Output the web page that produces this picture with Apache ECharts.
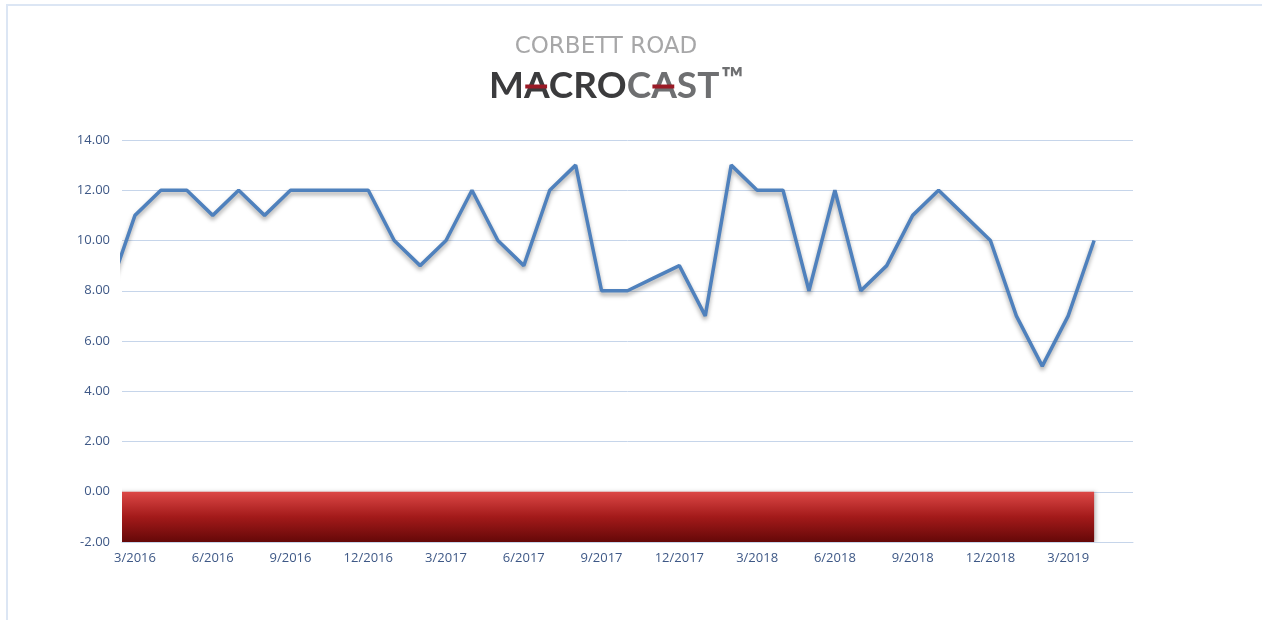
<!DOCTYPE html>
<html>
<head>
<meta charset="utf-8">
<script src="https://cdn.jsdelivr.net/npm/echarts@6/dist/echarts.min.js"></script>
<style>
  html, body { margin: 0; padding: 0; background: #fff; }
  #chart { width: 1262px; height: 620px; }
</style>
</head>
<body>
<div id="chart"></div>
<script>
// months on the visible axis (3/2016 .. 5/2019)
const months = [
  '3/2016', '4/2016', '5/2016', '6/2016', '7/2016', '8/2016', '9/2016', '10/2016', '11/2016', '12/2016',
  '1/2017', '2/2017', '3/2017', '4/2017', '5/2017', '6/2017', '7/2017', '8/2017', '9/2017', '10/2017', '11/2017', '12/2017',
  '1/2018', '2/2018', '3/2018', '4/2018', '5/2018', '6/2018', '7/2018', '8/2018', '9/2018', '10/2018', '11/2018', '12/2018',
  '1/2019', '2/2019', '3/2019', '4/2019', '5/2019'
];
// index score, first value is 2/2016 (just left of the axis, clipped)
const scores = [
  8,
  11, 12, 12, 11, 12, 11, 12, 12, 12, 12,
  10, 9, 10, 12, 10, 9, 12, 13, 8, 8, 8.5, 9,
  7, 13, 12, 12, 8, 12, 8, 9, 11, 12, 11, 10,
  7, 5, 7, 10
];
// shaded band below zero, same months as scores
const band = [
  -2,
  -2, -2, -2, -2, -2, -2, -2, -2, -2, -2,
  -2, -2, -2, -2, -2, -2, -2, -2, -2, -2, -2, -2,
  -2, -2, -2, -2, -2, -2, -2, -2, -2, -2, -2, -2,
  -2, -2, -2, -2
];
const yTicks = { min: -2, max: 14, step: 2 };

const labelColor = '#3e5886';
const gridColor = '#c6d5ea';

// logo text, red strokes across the two A's measured from the font
const logoFont = 'bold 37px Lato';
const logoX = 489, logoY = 86;
const ctx = document.createElement('canvas').getContext('2d');
ctx.font = logoFont;
const tw = s => ctx.measureText(s).width;
const a1 = logoX + tw('M');
const a2 = logoX + tw('MACROC');
const wA = tw('A');
const gCast = logoX + tw('MACRO');
const gTm = logoX + tw('MACROCAST');

const chart = echarts.init(document.getElementById('chart'));
chart.setOption({
  animation: false,
  textStyle: { fontFamily: 'Open Sans' },
  graphic: [
    { type: 'rect', shape: { x: 7, y: 5, width: 1300, height: 700 }, style: { fill: 'none', stroke: '#dce6f4', lineWidth: 2 }, silent: true },
    {
      type: 'text', x: 606, y: 47,
      style: { text: 'CORBETT ROAD', font: '23px "DejaVu Sans"', fill: '#a7a7a8', align: 'center', verticalAlign: 'middle' }
    },
    {
      type: 'text', x: logoX, y: logoY,
      style: { text: 'MACRO', font: logoFont, fill: '#3b3b3d', verticalAlign: 'middle' }
    },
    {
      type: 'text', x: gCast, y: logoY,
      style: { text: 'CAST', font: logoFont, fill: '#6e6f71', verticalAlign: 'middle' }
    },
    {
      type: 'text', x: gTm + 2, y: logoY - 7,
      style: { text: '™', font: 'bold 30px Lato', fill: '#6e6f71', verticalAlign: 'middle' }
    },
    { type: 'rect', z: 100, shape: { x: a1 + wA * 0.05, y: 84.5, width: wA * 0.85, height: 4 }, style: { fill: '#9a1a26' } },
    { type: 'rect', z: 100, shape: { x: a2 + wA * 0.05, y: 84.5, width: wA * 0.85, height: 4 }, style: { fill: '#9a1a26' } }
  ],
  grid: { left: 122, right: 129, top: 140, bottom: 78, containLabel: false },
  xAxis: [
    { type: 'value', min: -0.5, max: months.length - 0.5, show: false },
    {
      type: 'category',
      data: months,
      boundaryGap: true,
      position: 'bottom',
      axisLine: { onZero: false, lineStyle: { color: gridColor } },
      axisTick: { interval: 2, length: 5, lineStyle: { color: gridColor } },
      axisLabel: { interval: 2, color: labelColor, fontSize: 13, margin: 10 },
      splitLine: { show: false }
    }
  ],
  yAxis: {
    type: 'value',
    min: yTicks.min,
    max: yTicks.max,
    interval: yTicks.step,
    axisLine: { show: false },
    axisTick: { show: false },
    axisLabel: { color: labelColor, fontSize: 13, margin: 12, formatter: v => v.toFixed(2) },
    splitLine: { lineStyle: { color: gridColor, width: 1 } }
  },
  series: [
    {
      name: 'band',
      type: 'line',
      xAxisIndex: 0,
      data: band.map((v, i) => [i - 1, v]),
      symbol: 'none',
      clip: true,
      lineStyle: { width: 0 },
      areaStyle: {
        opacity: 1,
        color: new echarts.graphic.LinearGradient(0, 0, 0, 1, [
          { offset: 0, color: '#dc4846' },
          { offset: 0.5, color: '#a31a1a' },
          { offset: 1, color: '#650808' }
        ]),
        shadowColor: 'rgba(0,0,0,0.25)',
        shadowBlur: 4,
        shadowOffsetX: 2
      },
      z: 2
    },
    {
      name: 'score',
      type: 'line',
      xAxisIndex: 0,
      data: scores.map((v, i) => [i - 1, v]),
      symbol: 'none',
      clip: true,
      lineStyle: {
        color: '#4f81bd',
        width: 3.5,
        shadowColor: 'rgba(0,0,0,0.35)',
        shadowBlur: 4,
        shadowOffsetY: 3
      },
      z: 3
    }
  ]
});
</script>
</body>
</html>
